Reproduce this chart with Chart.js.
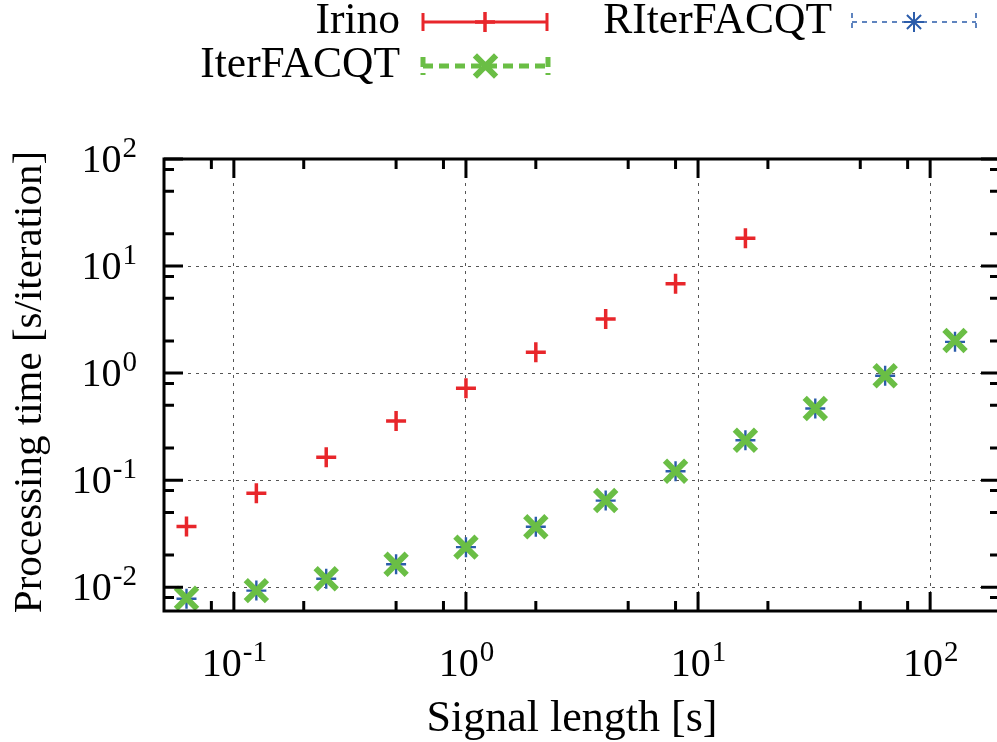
<!DOCTYPE html>
<html>
<head>
<meta charset="utf-8">
<script src="https://cdn.jsdelivr.net/npm/chart.js@4.4.0/dist/chart.umd.min.js"></script>
<style>
  html, body { margin: 0; padding: 0; background: #fff; overflow: hidden; }
  #wrap { width: 1021px; height: 742px; }
</style>
</head>
<body>
<div id="wrap"><canvas id="chart" width="1021" height="742"></canvas></div>
<script>
var signalLength = [0.0625, 0.125, 0.25, 0.5, 1, 2, 4, 8, 16, 32, 64, 128];
var irino = [0.037, 0.0755, 0.164, 0.357, 0.723, 1.57, 3.21, 6.82, 18.2];
var iterFACQT = [0.0079, 0.0093, 0.012, 0.0164, 0.0237, 0.0367, 0.0645, 0.121, 0.236, 0.467, 0.944, 2.02];
var rIterFACQT = [0.0078, 0.0093, 0.012, 0.0164, 0.0237, 0.0367, 0.0645, 0.121, 0.236, 0.467, 0.944, 1.96];

var xMajorTicks = [0.1, 1, 10, 100];
var xMinorTicks = [0.08, 0.2, 0.5, 0.8, 2, 5, 8, 20, 50, 80];
var yMajorTicks = [0.01, 0.1, 1, 10, 100];
var yMinorTicks = [0.008, 0.02, 0.05, 0.08, 0.2, 0.5, 0.8, 2, 5, 8, 20, 50, 80];

var xTitle = 'Signal length [s]';
var yTitle = 'Processing time [s/iteration]';

var RED = '#e8262b', GREEN = '#6abe45', BLUE = '#2b5caa';
var FONT = '"Liberation Serif", "Times New Roman", serif';

function toPoints(values){
    return values.map(function(v, i){ return {x: signalLength[i], y: v}; });
}

function majorOnly(list){
    return function(scale){
        scale.ticks = list.map(function(v){ return {value: v}; });
    };
}

function marker(ctx, style, r, x, y){
    if (Chart.helpers && Chart.helpers.drawPoint) {
        Chart.helpers.drawPoint(ctx, {pointStyle: style, radius: r, borderWidth: 1, rotation: 0}, x, y);
        return;
    }
    var d = r * Math.SQRT1_2;
    ctx.beginPath();
    if (style == 'cross' || style == 'star') {
        ctx.moveTo(x - r, y); ctx.lineTo(x + r, y);
        ctx.moveTo(x, y - r); ctx.lineTo(x, y + r);
    }
    if (style == 'crossRot' || style == 'star') {
        ctx.moveTo(x - d, y - d); ctx.lineTo(x + d, y + d);
        ctx.moveTo(x - d, y + d); ctx.lineTo(x + d, y - d);
    }
    ctx.stroke();
}

// "10" with raised exponent, like gnuplot's 10^{n}
function powerLabel(ctx, exp, x, y, align){
    ctx.font = '40px ' + FONT;
    var base = '10';
    var bw = ctx.measureText(base).width;
    ctx.font = '29px ' + FONT;
    var sup = String(exp);
    var sw = ctx.measureText(sup).width;
    var left = align == 'right' ? x - bw - sw : x - (bw + sw) / 2;
    ctx.textAlign = 'left';
    ctx.textBaseline = 'alphabetic';
    ctx.font = '40px ' + FONT;
    ctx.fillText(base, left, y);
    ctx.font = '29px ' + FONT;
    ctx.fillText(sup, left + bw + 1, y - 15);
}

function legendSample(ctx, x0, x1, y, color, width, dash, style, r, pw){
    ctx.save();
    ctx.strokeStyle = color;
    ctx.lineWidth = width;
    ctx.setLineDash(dash);
    ctx.beginPath();
    ctx.moveTo(x0, y); ctx.lineTo(x1, y);
    ctx.moveTo(x0, y - 9); ctx.lineTo(x0, y + 9);
    ctx.moveTo(x1, y - 9); ctx.lineTo(x1, y + 9);
    ctx.stroke();
    ctx.setLineDash([]);
    ctx.lineWidth = pw;
    marker(ctx, style, r, (x0 + x1) / 2, y);
    ctx.restore();
}

var gnuplotFrame = {
    id: 'gnuplotFrame',
    afterDraw: function(chart){
        var ctx = chart.ctx, a = chart.chartArea;
        var xs = chart.scales.x, ys = chart.scales.y;
        ctx.save();
        ctx.strokeStyle = '#000';
        ctx.lineWidth = 3;
        ctx.beginPath();
        function xTick(v, len){
            var px = xs.getPixelForValue(v);
            ctx.moveTo(px, a.bottom); ctx.lineTo(px, a.bottom - len);
            ctx.moveTo(px, a.top); ctx.lineTo(px, a.top + len);
        }
        function yTick(v, len){
            var py = ys.getPixelForValue(v);
            ctx.moveTo(a.left, py); ctx.lineTo(a.left + len, py);
            ctx.moveTo(a.right, py); ctx.lineTo(a.right - len, py);
        }
        xMajorTicks.forEach(function(v){ xTick(v, 19); });
        xMinorTicks.forEach(function(v){ xTick(v, 10); });
        yMajorTicks.forEach(function(v){ yTick(v, 19); });
        yMinorTicks.forEach(function(v){ yTick(v, 10); });
        ctx.stroke();
        ctx.strokeRect(a.left, a.top, a.right - a.left, a.bottom - a.top);

        ctx.fillStyle = '#000';
        xMajorTicks.forEach(function(v){
            powerLabel(ctx, Math.round(Math.log10(v)), xs.getPixelForValue(v), a.bottom + 65, 'center');
        });
        yMajorTicks.forEach(function(v){
            powerLabel(ctx, Math.round(Math.log10(v)), 136, ys.getPixelForValue(v) + 13, 'right');
        });

        ctx.textAlign = 'center';
        ctx.textBaseline = 'alphabetic';
        ctx.font = '44px ' + FONT;
        ctx.fillText(xTitle, 572, 731);
        ctx.save();
        ctx.font = '41px ' + FONT;
        ctx.translate(41, (a.top + a.bottom) / 2 - 3);
        ctx.rotate(-Math.PI / 2);
        ctx.fillText(yTitle, 0, 0);
        ctx.restore();

        // key
        var sets = chart.data.datasets;
        ctx.font = '43.5px ' + FONT;
        ctx.textAlign = 'right';
        ctx.textBaseline = 'middle';
        ctx.fillText(sets[0].label, 400, 22);
        ctx.fillText(sets[1].label, 400, 66);
        ctx.fillText(sets[2].label, 832, 22);
        legendSample(ctx, 423, 547, 22, RED, 3, [], 'cross', 10, 3.5);
        legendSample(ctx, 423, 548, 66, GREEN, 5, [10, 6], 'crossRot', 15, 6);
        legendSample(ctx, 852, 976, 22, BLUE, 1.5, [5, 5], 'star', 10, 2);
        ctx.restore();
    }
};

new Chart(document.getElementById('chart'), {
    type: 'scatter',
    data: {
        datasets: [
            {label: 'Irino', data: toPoints(irino), pointStyle: 'cross', pointRadius: 10,
             borderColor: RED, backgroundColor: RED, pointBorderWidth: 3.5, showLine: false},
            {label: 'IterFACQT', data: toPoints(iterFACQT), pointStyle: 'crossRot', pointRadius: 15,
             borderColor: GREEN, backgroundColor: GREEN, pointBorderWidth: 6, showLine: false},
            {label: 'RIterFACQT', data: toPoints(rIterFACQT), pointStyle: 'star', pointRadius: 10,
             borderColor: BLUE, backgroundColor: BLUE, pointBorderWidth: 2.4, showLine: false}
        ]
    },
    options: {
        responsive: false,
        animation: false,
        events: [],
        layout: {padding: {left: 164, top: 159, right: 3, bottom: 131}},
        plugins: {legend: {display: false}, tooltip: {enabled: false}},
        scales: {
            x: {
                type: 'logarithmic', min: 0.05, max: 200,
                afterBuildTicks: majorOnly(xMajorTicks),
                ticks: {display: false},
                grid: {color: '#555', lineWidth: 1, drawTicks: false},
                border: {display: false, dash: [3, 5]}
            },
            y: {
                type: 'logarithmic', min: 0.006, max: 100,
                afterBuildTicks: majorOnly(yMajorTicks),
                ticks: {display: false},
                grid: {color: '#555', lineWidth: 1, drawTicks: false},
                border: {display: false, dash: [3, 5]}
            }
        }
    },
    plugins: [gnuplotFrame]
});
</script>
</body>
</html>
